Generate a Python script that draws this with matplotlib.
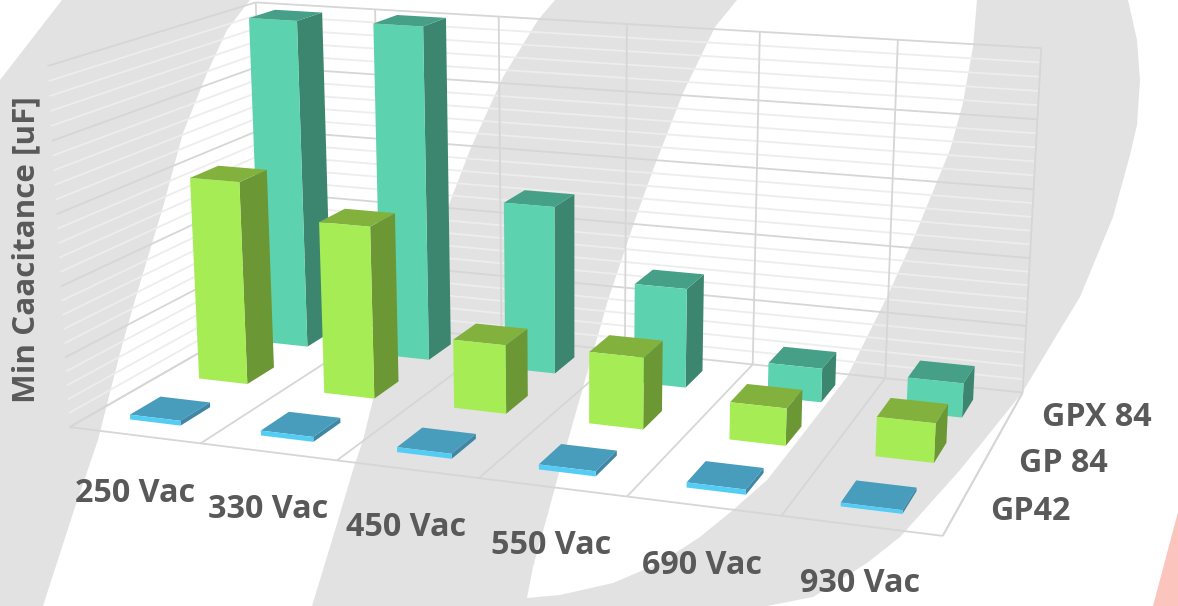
import numpy as np
import matplotlib
matplotlib.use("Agg")
import matplotlib.pyplot as plt
from matplotlib.patches import Polygon

W, H = 1178, 606

categories = ["250 Vac", "330 Vac", "450 Vac", "550 Vac", "690 Vac", "930 Vac"]
series = ["GP42", "GP 84", "GPX 84"]
gp42 = [0.07, 0.07, 0.07, 0.07, 0.07, 0.05]
gp84 = [3.0, 2.52, 1.0, 1.03, 0.53, 0.55]
gpx84 = [5.0, 5.03, 2.52, 1.48, 0.5, 0.5]
values = [gp42, gp84, gpx84]
z_top = 5
axis_title = "Min Caacitance [uF]"

front = ["#54CDF5", "#A6EC55", "#5DD2AE"]
top = ["#489CBC", "#82B13E", "#45A087"]
side = ["#3F87A5", "#6B9735", "#3C856F"]
MAJOR, MINOR = "#D6D6D6", "#EDEDED"
TXT = "#595959"
FONT = "Open Sans"

# camera calibration: axis-box corners and their pixel position
cal_3d = [(0,0,0),(1,0,0),(2,0,0),(3,0,0),(4,0,0),(5,0,0),(6,0,0),
          (0,3,0),(4,3,0),(5,3,0),(6,3,0),
          (0,0,5),(0,3,5),(1,3,5),(2,3,5),(3,3,5),(4,3,5),(5,3,5),(6,3,5)]
cal_px = [(68,428),(200,443),(338,460),(480,477),(627,496),(782,515),(942,537),
          (268,312),(753,365),(885,380),(1022,393),
          (48,67),(255,3),(375,10),(499,17),(627,23),(760,32),(898,39),(1041,47)]

def fit_camera(pts, px):
    rows = []
    for (x, y, z), (u, v) in zip(pts, px):
        X = [x, y, z, 1]
        rows.append(X + [0,0,0,0] + [-u*c for c in X])
        rows.append([0,0,0,0] + X + [-v*c for c in X])
    P = np.linalg.svd(np.array(rows, float))[2][-1].reshape(3, 4)
    if P[2] @ np.array([3, 1.5, 2, 1]) < 0:
        P = -P
    return P / abs(P[2, 3])

P = fit_camera(cal_3d, cal_px)

fig = plt.figure(figsize=(W/100, H/100), dpi=100, facecolor="white")

# decorative background
bg = fig.add_axes([0, 0, 1, 1], zorder=0)
bg.set_xlim(0, W); bg.set_ylim(H, 0); bg.axis("off")
GRAY = "#E2E2E2"
left_shape = [(62,0),(250,0),(227,30),(207,73),(183,133),(163,207),(135,300),(120,353),
              (98,440),(75,507),(43,606),(0,606),(0,80)]
main_shape = [(555,0),(737,0),(715,27),(683,93),(653,170),(635,220),(608,300),(570,433),
              (557,480),(547,517),(533,567),(527,598),(560,595),(613,583),(660,563),(700,537),
              (733,510),(767,480),(793,447),(847,377),(887,297),(913,240),(950,150),(963,103),
              (973,47),(977,0),(1128,0),(1137,40),(1140,80),(1137,125),(1130,155),(1113,217),(1080,297),
              (1058,333),(1022,393),(960,470),(900,537),(867,563),(813,597),(767,606),(312,606),
              (333,537),(353,470),(363,440),(373,400),(410,300),(448,207),(470,150),(503,77),(538,20)]
pink_shape = [(1178,512),(1178,606),(1153,606)]
bg.add_patch(Polygon(left_shape, fc=GRAY, ec="none"))
bg.add_patch(Polygon(main_shape, fc=GRAY, ec="none"))
bg.add_patch(Polygon(pink_shape, fc="#FBC4BC", ec="none"))

# 3D chart
ax = fig.add_axes([0, 0, 1, 1], projection="3d", computed_zorder=False, zorder=1)
ax.apply_aspect = lambda position=None: None
ax.set_axis_off()
ax.patch.set_alpha(0)

def camera_matrix():
    A = ax.transData.get_affine().get_matrix()
    F = np.array([[1, 0, 0], [0, -1, H], [0, 0, 1]], float)
    Q = np.linalg.inv(A) @ F @ P
    return np.array([Q[0], Q[1], [0, 0, 0, -1], Q[2]])

ax.get_proj = camera_matrix
ax.M = camera_matrix()

n_cat, n_ser = len(categories), len(series)

def grid(xs, ys, zs, c, z):
    ax.plot(xs, ys, zs, color=c, lw=1.3, zorder=z, solid_capstyle="butt")

for lv in np.arange(0, z_top + 1e-6, 0.2):
    is_major = abs(lv - round(lv)) < 1e-6
    c, zo = (MAJOR, 2) if is_major else (MINOR, 1)
    grid([0, 0], [0, n_ser], [lv, lv], c, zo)
    grid([0, n_cat], [n_ser, n_ser], [lv, lv], c, zo)
for k in range(n_cat + 1):
    grid([k, k], [n_ser, n_ser], [0, z_top], MAJOR, 2)
    grid([k, k], [0, n_ser], [0, 0], MAJOR, 2)
grid([0, n_cat], [0, 0], [0, 0], MAJOR, 2)
grid([n_cat, n_cat], [0, n_ser], [0, 0], MAJOR, 2)

bw, bd = 0.39, 0.43
order = 10
for s in reversed(range(n_ser)):
    for c in range(n_cat):
        none = (0, 0, 0, 0)
        cols = [none, top[s], front[s], none, none, side[s]]
        ax.bar3d(c + 0.5 - bw/2, s + 0.5 - bd/2, 0, bw, bd, values[s][c],
                 color=cols, shade=False, zorder=order)
        order += 1

# text layer
ov = fig.add_axes([0, 0, 1, 1], zorder=2)
ov.set_xlim(0, W); ov.set_ylim(H, 0); ov.axis("off")
cat_xy = [(135,493),(268,510),(406,527),(551,546),(702,565),(860,584)]
ser_xy = [(1030,512),(1063,463),(1097,417)]
FS = 23.2
for t, (x, y) in zip(categories, cat_xy):
    ov.text(x, y, t, ha="center", va="center", fontsize=FS, color=TXT, family=FONT, weight="bold")
for t, (x, y) in zip(series, ser_xy):
    ov.text(x, y, t, ha="center", va="center", fontsize=FS, color=TXT, family=FONT, weight="bold")
ov.text(26, 249.5, axis_title, ha="center", va="center", rotation=90, fontsize=22.6,
        color=TXT, family=FONT, weight="bold")

fig.savefig("out.png", dpi=100)
